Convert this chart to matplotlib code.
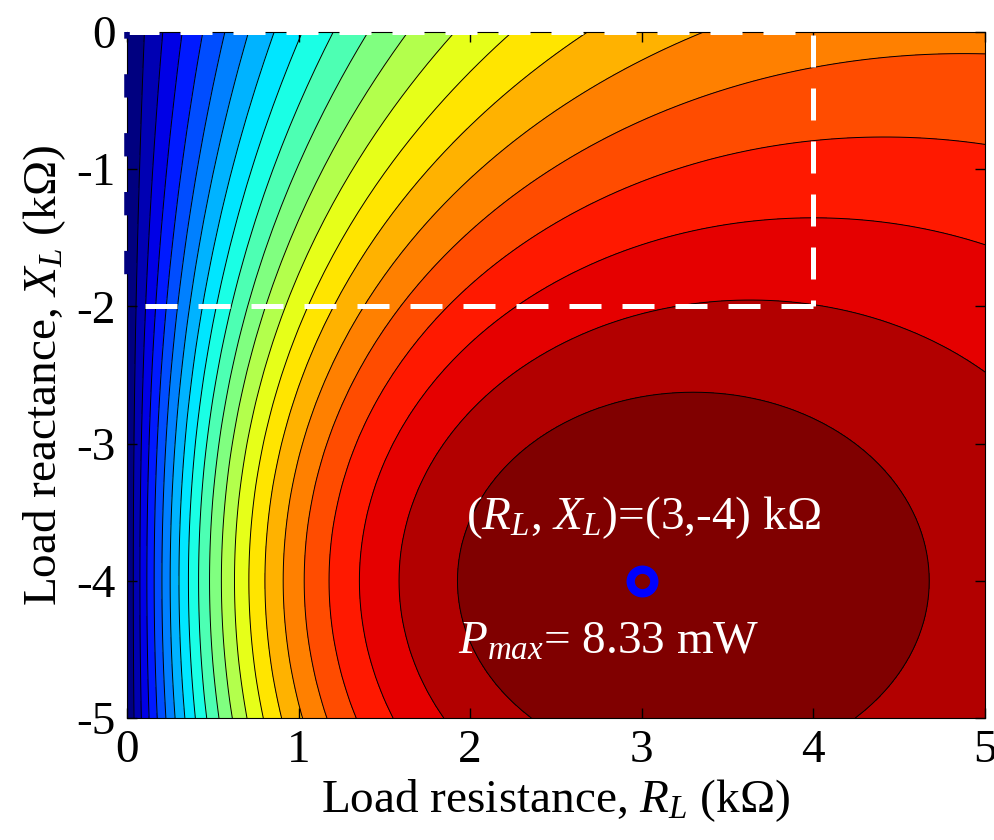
import numpy as np
import matplotlib
matplotlib.use("Agg")
import matplotlib.pyplot as plt

plt.rcParams['font.family'] = ['Liberation Serif', 'DejaVu Serif']
plt.rcParams['mathtext.fontset'] = 'custom'
plt.rcParams['mathtext.rm'] = 'Liberation Serif'
plt.rcParams['mathtext.it'] = 'Liberation Serif:italic'
plt.rcParams['axes.unicode_minus'] = False

# source impedance (kOhm) and source voltage (V)
Rs = 3.0
Xs = 4.0
Vs = 10.0
Pmax = Vs**2 / (4 * Rs)  # mW

# load grid (kOhm)
RL = np.linspace(0, 5, 101)
XL = np.linspace(-5, 0, 101)
R, X = np.meshgrid(RL, XL)
P = Vs**2 * R / ((Rs + R)**2 + (Xs + X)**2)

# region boundary (dashed box) and optimum point
box_r = [0, 4, 4, 0]
box_x = [0, 0, -2, -2]
opt_r = [3]
opt_x = [-4]

nband = 21
levels = np.linspace(0, Pmax, nband + 1)
fill_lev = levels.copy()
fill_lev[0] -= 0.01
fill_lev[-1] += 0.01

# matlab style jet
t = np.linspace(0, 1, nband)
colors = np.column_stack([np.clip(1.5 - np.abs(4 * t - 3), 0, 1),
                          np.clip(1.5 - np.abs(4 * t - 2), 0, 1),
                          np.clip(1.5 - np.abs(4 * t - 1), 0, 1)])

fig = plt.figure(figsize=(9.95, 8.4), dpi=100)
ax = fig.add_axes([0.1276, 0.1452, 0.8624, 0.8167])
ax.contourf(R, X, P, levels=fill_lev, colors=colors)
ax.contour(R, X, P, levels=levels[1:-1], colors='k', linewidths=0.7)

# dashed white box
ax.plot(box_r[:3], box_x[:3], color='white', lw=3.6, ls=(0, (6.4, 4.2)),
        clip_on=False, zorder=5)
ax.plot([box_r[2], box_r[3]], [box_x[2], box_x[3]], color='white', lw=3.6,
        ls=(0, (6.4, 4.2)), clip_on=False, zorder=5)
ax.plot([0, 0], [0, -2], color='#000080', lw=4, ls=(3, (4.2, 6.4)),
        clip_on=False, zorder=5)

ax.plot(opt_r, opt_x, 'o', ms=17, mfc='none', mec='blue', mew=6, zorder=6)

ax.text(3.01, -3.54, '($R_L$, $X_L$)=(3,-4) kΩ', color='white', fontsize=34,
        ha='center', va='center')
ax.text(2.81, -4.45, '$P_{max}$= 8.33 mW', color='white', fontsize=34,
        ha='center', va='center')

ax.set_xlim(0, 5)
ax.set_ylim(-5, 0)
ax.set_xticks([0, 1, 2, 3, 4, 5])
ax.set_yticks([0, -1, -2, -3, -4, -5])
ax.tick_params(direction='in', length=7, width=1, top=True, right=True,
               labelsize=34, pad=8)
ax.set_xlabel('Load resistance, $R_L$ (kΩ)', fontsize=34, labelpad=4)
ax.set_ylabel('Load reactance, $X_L$ (kΩ)', fontsize=34, labelpad=6)

fig.savefig('out.png', dpi=100)
